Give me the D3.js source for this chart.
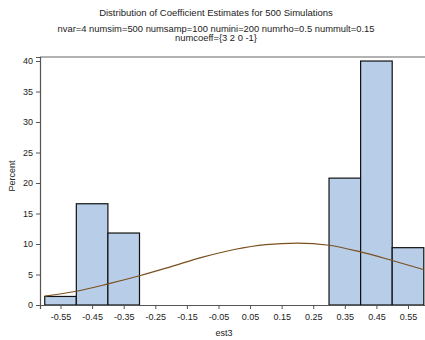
<!DOCTYPE html>
<html>
<head>
<meta charset="utf-8">
<script src="https://cdn.jsdelivr.net/npm/d3@7"></script>
<style>
  body { margin: 0; background: #fff; }
  text { font-family: "Liberation Sans", Arial, sans-serif; fill: #222; }
</style>
</head>
<body>
<div id="chart"></div>
<script>
// bins of est3 (lower edge, upper edge) and percent per bin
const binLo = [-0.6, -0.5, -0.4, 0.3, 0.4, 0.5];
const binHi = [-0.5, -0.4, -0.3, 0.4, 0.5, 0.6];
const percent = [1.4, 16.6, 11.8, 20.8, 40.0, 9.4];

// fitted normal curve at bin edges
const curveX = [-0.6, -0.5, -0.4, -0.3, -0.2, -0.1, 0.0, 0.1, 0.2, 0.3, 0.4, 0.5, 0.6];
const curveY = [1.45, 2.25, 3.45, 4.8, 6.3, 7.85, 9.1, 9.9, 10.15, 9.8, 8.7, 7.3, 5.8];

const xTicks = [-0.55, -0.45, -0.35, -0.25, -0.15, -0.05, 0.05, 0.15, 0.25, 0.35, 0.45, 0.55];
const yTicks = [0, 5, 10, 15, 20, 25, 30, 35, 40];

const title = 'Distribution of Coefficient Estimates for 500 Simulations';
const subtitle = ['nvar=4 numsim=500 numsamp=100 numini=200 numrho=0.5 nummult=0.15', 'numcoeff={3 2 0 -1}'];

const W = 425, H = 340;
const margin = { left: 40, right: 426, top: 57, bottom: 305 };

const svg = d3.select('#chart').append('svg')
  .attr('width', W)
  .attr('height', H);

const x = d3.scaleLinear().domain([-0.615, 0.607]).range([margin.left, margin.right]);
const y = d3.scaleLinear().domain([0, 40.66]).range([margin.bottom, margin.top]);

// titles
svg.append('text')
  .attr('x', 216).attr('y', 16)
  .attr('text-anchor', 'middle')
  .style('font-size', '9.5px')
  .text(title);

svg.selectAll('.sub')
  .data(subtitle)
  .enter().append('text')
  .attr('class', 'sub')
  .attr('x', 216)
  .attr('y', (d, i) => 31.5 + i * 9.5)
  .attr('text-anchor', 'middle')
  .style('font-size', '9.4px')
  .text((d) => d);

// bars
svg.selectAll('.bar')
  .data(percent)
  .enter().append('rect')
  .attr('class', 'bar')
  .attr('x', (d, i) => x(binLo[i]))
  .attr('width', (d, i) => x(binHi[i]) - x(binLo[i]))
  .attr('y', (d) => y(d))
  .attr('height', (d) => y(0) - y(d))
  .style('fill', '#b8cde7')
  .style('stroke', '#111')
  .style('stroke-width', 1.2);

// normal curve
const line = d3.line()
  .x((d, i) => x(curveX[i]))
  .y((d) => y(d))
  .curve(d3.curveMonotoneX);

svg.append('path')
  .datum(curveY)
  .attr('d', line)
  .style('fill', 'none')
  .style('stroke', '#7a5020')
  .style('stroke-width', 1.2);

// frame top
svg.append('line')
  .attr('x1', margin.left).attr('x2', margin.right)
  .attr('y1', margin.top).attr('y2', margin.top)
  .style('stroke', '#666')
  .style('stroke-width', 1.2);

// axes
const xAxis = svg.append('g')
  .attr('transform', `translate(0, ${margin.bottom})`)
  .call(d3.axisBottom(x).tickValues(xTicks).tickSize(4).tickPadding(5)
    .tickFormat((d) => d3.format('.2f')(d).replace('−', '-')));

const yAxis = svg.append('g')
  .attr('transform', `translate(${margin.left}, 0)`)
  .call(d3.axisLeft(y).tickValues(yTicks).tickSize(4).tickPadding(3));

[xAxis, yAxis].forEach((g) => {
  g.select('.domain').style('stroke', '#555').style('stroke-width', 1.2);
  g.selectAll('.tick line').style('stroke', '#555');
  g.selectAll('.tick text').style('font-size', '9px').style('fill', '#222')
    .style('font-family', '"Liberation Sans", Arial, sans-serif');
});

// axis labels
svg.append('text')
  .attr('x', 224).attr('y', 336)
  .attr('text-anchor', 'middle')
  .style('font-size', '9px')
  .text('est3');

svg.append('text')
  .attr('transform', `translate(15, ${(margin.top + margin.bottom) / 2 - 5}) rotate(-90)`)
  .attr('text-anchor', 'middle')
  .style('font-size', '9px')
  .text('Percent');
</script>
</body>
</html>
